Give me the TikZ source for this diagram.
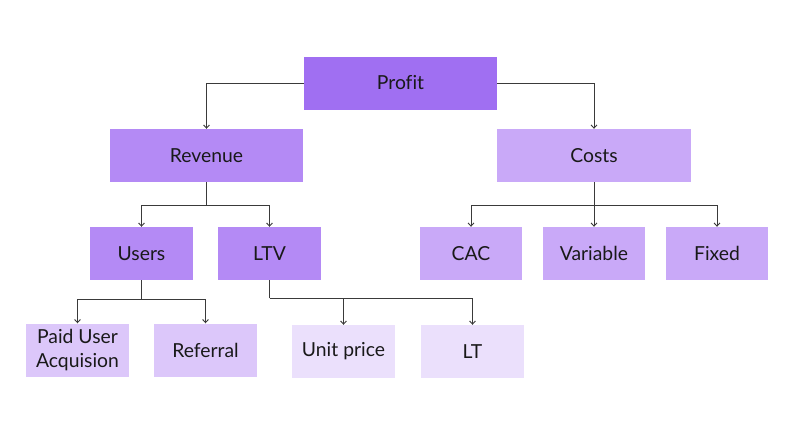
\documentclass[tikz,border=0pt]{standalone}
\usepackage{fontspec}
\setmainfont{Lato}[Ligatures=NoCommon]
\usetikzlibrary{positioning,arrows.meta}

\definecolor{topc}{HTML}{A06FF2}
\definecolor{midc}{HTML}{B48AF5}
\definecolor{costc}{HTML}{C9A9F8}
\definecolor{lowc}{HTML}{DCC7FA}
\definecolor{palec}{HTML}{EBE0FC}
\definecolor{linec}{HTML}{3A3A3A}

\begin{document}
\begin{tikzpicture}[x=0.03cm,y=-0.03cm,
    box/.style={inner sep=0pt, minimum height=1.59cm, align=center,
                font=\fontsize{16.5}{20}\selectfont, text=black!90},
    wide/.style={box, minimum width=5.79cm},
    small/.style={box, minimum width=3.08cm},
    link/.style={draw=linec, line width=0.85pt, -{Straight Barb[length=2.6pt,width=5pt]}}]
    \useasboundingbox (0,0) rectangle (800,444);
    % top level
    \node[wide, fill=topc] (profit) at (400.5,83) {Profit};
    \node[wide, fill=midc] (revenue) at (206.5,155.5) {Revenue};
    \node[wide, fill=costc] (costs) at (594,155.5) {Costs};
    % second level
    \node[small, fill=midc] (users) at (141.5,253.5) {Users};
    \node[small, fill=midc] (ltv) at (269.5,253.5) {LTV};
    \node[small, fill=costc] (cac) at (471,253.5) {CAC};
    \node[small, fill=costc] (variable) at (594,253.5) {Variable};
    \node[small, fill=costc] (fixed) at (717,253.5) {Fixed};
    % third level
    \node[small, fill=lowc] (paid) at (77.5,350) {Paid User\\[1pt]Acquision};
    \node[small, fill=lowc] (referral) at (205.5,350) {Referral};
    \node[small, fill=palec] (unitprice) at (343.5,351.5) {Unit price};
    \node[small, fill=palec] (lt) at (472.5,351.5) {LT};

    \draw[link] (profit.west) -| (revenue.north);
    \draw[link] (profit.east) -| (costs.north);

    \draw[linec, line width=0.85pt] (revenue.south) -- ++(0,23) coordinate (revsplit);
    \draw[link] (revsplit) -| (users.north);
    \draw[link] (revsplit) -| (ltv.north);

    \draw[linec, line width=0.85pt] (costs.south) -- ++(0,23) coordinate (costsplit);
    \draw[link] (costsplit) -| (cac.north);
    \draw[link] (costsplit) -- (variable.north);
    \draw[link] (costsplit) -| (fixed.north);

    \draw[linec, line width=0.85pt] (users.south) -- ++(0,19) coordinate (usersplit);
    \draw[link] (usersplit) -| (paid.north);
    \draw[link] (usersplit) -| (referral.north);

    \draw[linec, line width=0.85pt] (ltv.south) -- ++(0,18) coordinate (ltvsplit);
    \draw[link] (ltvsplit) -| (unitprice.north);
    \draw[link] (ltvsplit) -| (lt.north);
\end{tikzpicture}
\end{document}
